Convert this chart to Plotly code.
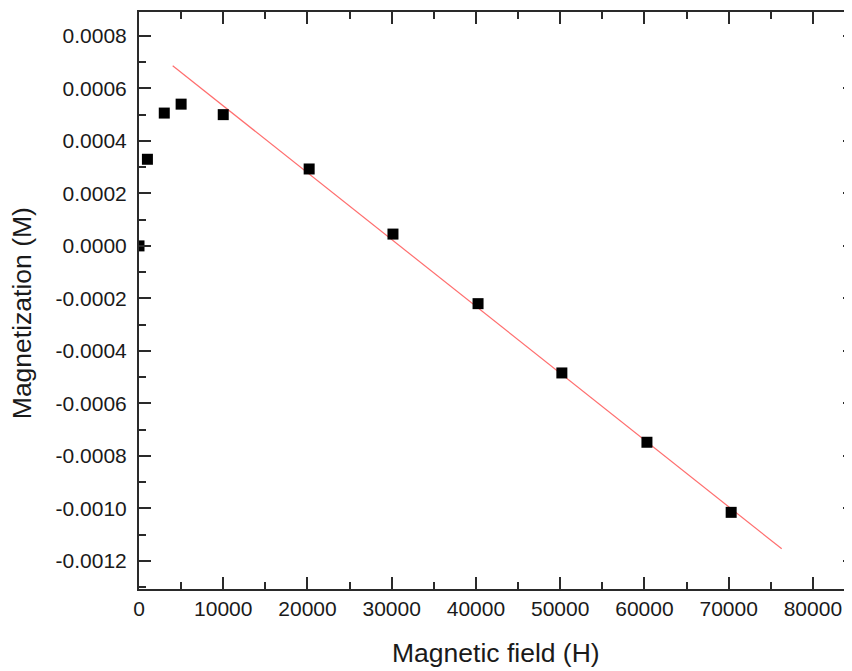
import plotly.graph_objects as go

# Data
field_H = [0, 1000, 3000, 5000, 10000, 20200, 30150, 40250, 50200, 60300, 70300]
magnetization_M = [0.0000, 0.00033, 0.000506, 0.00054, 0.000500, 0.000293, 0.000045,
                   -0.000220, -0.000484, -0.000748, -0.001015]

fit_H = [4000, 76300]
fit_M = [0.000686, -0.001154]

x_tickvals = [0, 10000, 20000, 30000, 40000, 50000, 60000, 70000, 80000]
x_ticktext = ["0", "10000", "20000", "30000", "40000", "50000", "60000", "70000", "80000"]
y_tickvals = [0.0008, 0.0006, 0.0004, 0.0002, 0.0, -0.0002, -0.0004, -0.0006,
              -0.0008, -0.0010, -0.0012]
y_ticktext = ["0.0008", "0.0006", "0.0004", "0.0002", "0.0000", "-0.0002", "-0.0004",
              "-0.0006", "-0.0008", "-0.0010", "-0.0012"]

FONT = "Liberation Sans, Arial, sans-serif"
AX = "#2a2a2a"
TXT = "#1a1a1a"

fig = go.Figure()
fig.add_trace(go.Scatter(x=fit_H, y=fit_M, mode="lines",
                         line=dict(color="rgb(255,110,110)", width=1.2),
                         showlegend=False))
fig.add_trace(go.Scatter(x=field_H, y=magnetization_M, mode="markers",
                         marker=dict(symbol="square", size=11, color="black",
                                     line=dict(width=0)),
                         showlegend=False, cliponaxis=True))
# invisible trace to activate the right-hand tick axis
fig.add_trace(go.Scatter(x=[0], y=[0], yaxis="y2", mode="markers",
                         marker=dict(opacity=0), showlegend=False, hoverinfo="skip"))

common = dict(showgrid=False, zeroline=False, ticks="inside", ticklen=12, tickwidth=2,
              tickcolor=AX, automargin=False,
              tickfont=dict(family=FONT, size=21, color=TXT))

# the page body adds an 8px margin; the right axis sits just past the window edge
fig.update_layout(
    width=847, height=663,
    margin=dict(l=131, r=0, t=4, b=82),
    plot_bgcolor="white", paper_bgcolor="white",
    xaxis=dict(range=[0, 85000], tickmode="array", tickvals=x_tickvals, ticktext=x_ticktext,
               showline=True, linecolor=AX, linewidth=2, mirror="ticks",
               minor=dict(ticks="inside", ticklen=7, tickwidth=2, tickcolor=AX,
                          tickmode="linear", tick0=0, dtick=5000),
               **common),
    yaxis=dict(range=[-0.001307, 0.000891], tickmode="array", tickvals=y_tickvals,
               ticktext=y_ticktext, showline=True, linecolor=AX, linewidth=2, mirror=False,
               minor=dict(ticks="inside", ticklen=7, tickwidth=2, tickcolor=AX,
                          tickmode="linear", tick0=0, dtick=0.0001),
               ticklabelstandoff=6,
               **common),
    yaxis2=dict(overlaying="y", side="right", range=[-0.001307, 0.000891], matches="y",
                tickmode="array", tickvals=y_tickvals, showticklabels=False,
                showline=True, linecolor=AX, linewidth=2, showgrid=False, zeroline=False,
                automargin=False,
                ticks="inside", ticklen=12, tickwidth=2, tickcolor=AX,
                minor=dict(ticks="inside", ticklen=7, tickwidth=2, tickcolor=AX,
                           tickmode="linear", tick0=0, dtick=0.0001)),
    annotations=[
        dict(text="Magnetization (M)", textangle=-90, xref="paper", yref="paper",
             x=-0.1634, y=0.478, xanchor="center", yanchor="middle", showarrow=False,
             font=dict(family=FONT, size=26.5, color=TXT)),
        dict(text="Magnetic field (H)", xref="paper", yref="paper",
             x=0.4986, y=-0.111, xanchor="center", yanchor="middle", showarrow=False,
             font=dict(family=FONT, size=26.5, color=TXT)),
    ],
)

fig.write_html("out.html")
